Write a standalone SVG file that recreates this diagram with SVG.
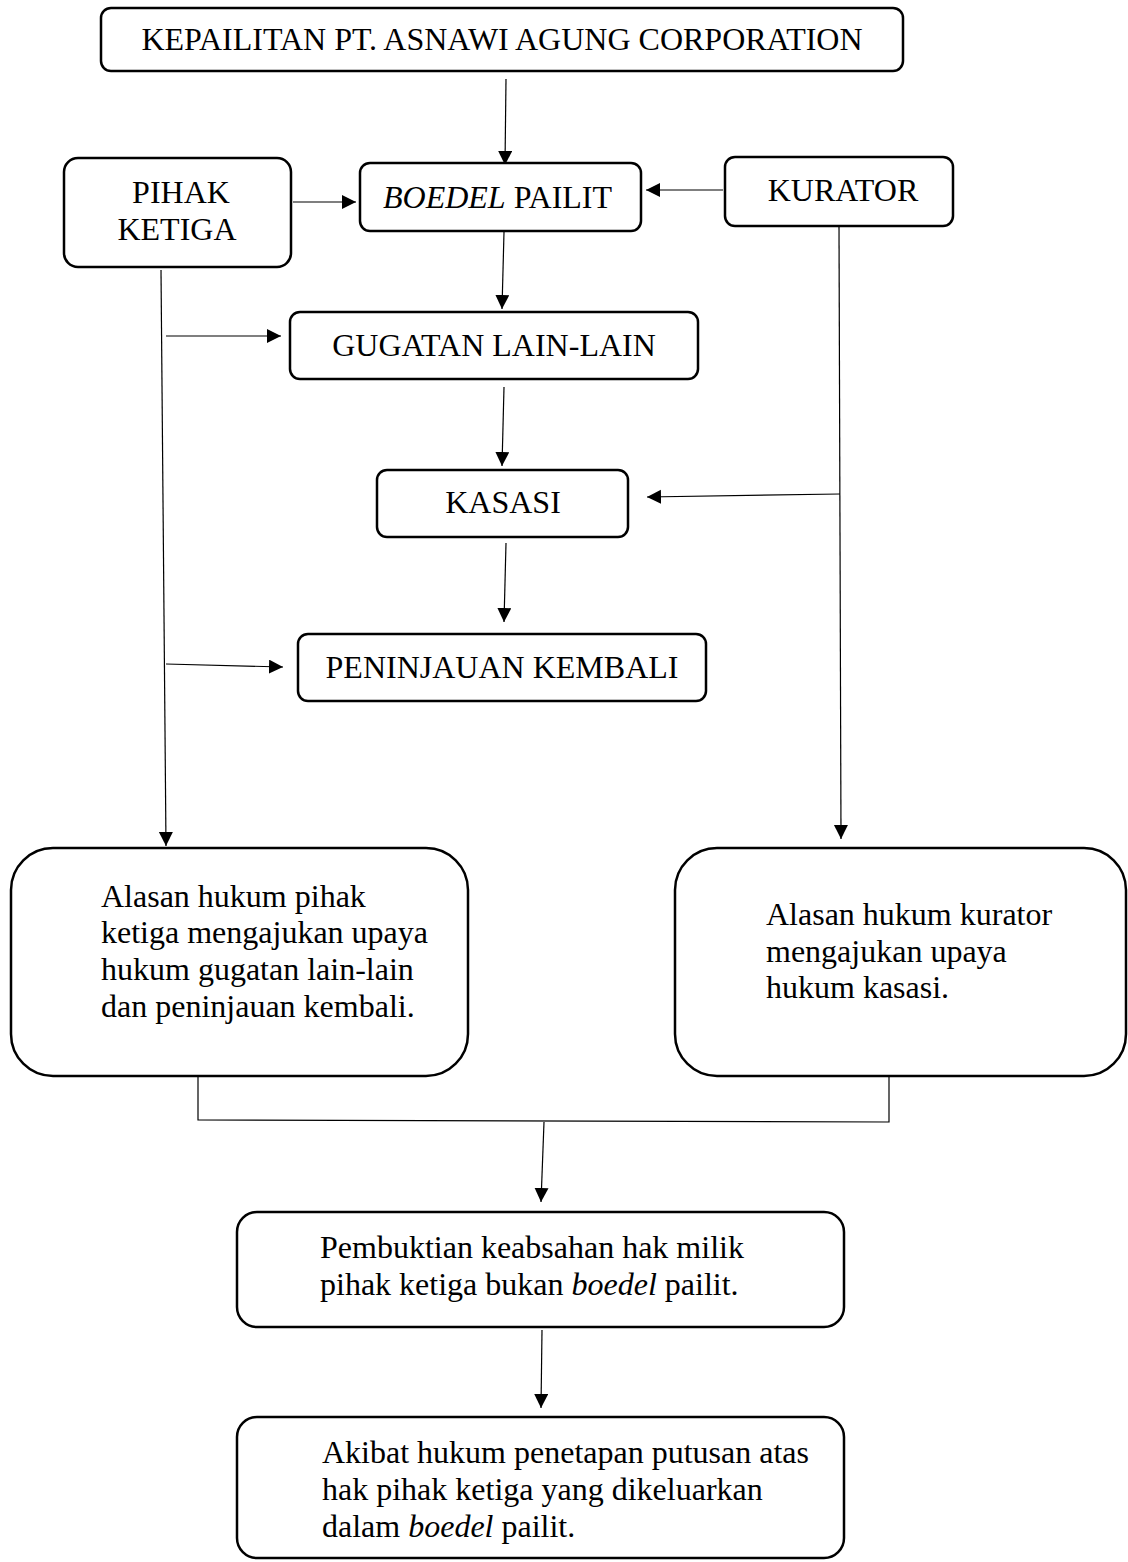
<svg xmlns="http://www.w3.org/2000/svg" width="1128" height="1562" viewBox="0 0 1128 1562">
<style>
.box{fill:#fff;stroke:#000;stroke-width:2.5}
.t{font-family:"Liberation Serif","Times New Roman",serif;font-size:32px;fill:#000}
.c{text-anchor:middle}
.con{stroke:#000;stroke-width:1.2;fill:none}
</style>
<defs>
<marker id="ah" markerUnits="userSpaceOnUse" markerWidth="16" markerHeight="16" refX="14" refY="7" orient="auto">
<path d="M0,0 L14,7 L0,14 Z" fill="#000"/>
</marker>
</defs>
<rect width="1128" height="1562" fill="#fff"/>
<g id="connectors">
<line class="con" x1="506" y1="79" x2="505" y2="165" marker-end="url(#ah)"/>
<line class="con" x1="293" y1="202" x2="356" y2="202" marker-end="url(#ah)"/>
<line class="con" x1="723" y1="190" x2="646" y2="190" marker-end="url(#ah)"/>
<line class="con" x1="504" y1="232" x2="502" y2="309" marker-end="url(#ah)"/>
<line class="con" x1="161" y1="270" x2="166" y2="846" marker-end="url(#ah)"/>
<line class="con" x1="166" y1="336" x2="281" y2="336" marker-end="url(#ah)"/>
<line class="con" x1="166" y1="664" x2="283" y2="667" marker-end="url(#ah)"/>
<line class="con" x1="839" y1="227" x2="841" y2="839" marker-end="url(#ah)"/>
<line class="con" x1="840" y1="494" x2="647" y2="497" marker-end="url(#ah)"/>
<line class="con" x1="504" y1="387" x2="502" y2="466" marker-end="url(#ah)"/>
<line class="con" x1="506" y1="543" x2="504" y2="622" marker-end="url(#ah)"/>
<polyline class="con" points="198,1077 198,1120 889,1122 889,1077"/>
<line class="con" x1="544" y1="1122" x2="541" y2="1202" marker-end="url(#ah)"/>
<line class="con" x1="542" y1="1330" x2="541" y2="1408" marker-end="url(#ah)"/>
</g>
<g id="n-kepailitan">
<rect class="box" x="101" y="8" width="802" height="63" rx="10"/>
<text class="t c" x="502" y="50">KEPAILITAN PT. ASNAWI AGUNG CORPORATION</text>
</g>
<g id="n-pihak">
<rect class="box" x="64" y="158" width="227" height="109" rx="14"/>
<text class="t c" x="181" y="203">PIHAK</text>
<text class="t c" x="177" y="240">KETIGA</text>
</g>
<g id="n-boedel">
<rect class="box" x="360" y="163" width="281" height="68" rx="10"/>
<text class="t" x="383" y="208"><tspan font-style="italic">BOEDEL</tspan> PAILIT</text>
</g>
<g id="n-kurator">
<rect class="box" x="725" y="157" width="228" height="69" rx="10"/>
<text class="t c" x="843" y="201">KURATOR</text>
</g>
<g id="n-gugatan">
<rect class="box" x="290" y="312" width="408" height="67" rx="10"/>
<text class="t c" x="494" y="356">GUGATAN LAIN-LAIN</text>
</g>
<g id="n-kasasi">
<rect class="box" x="377" y="470" width="251" height="67" rx="10"/>
<text class="t c" x="503" y="513">KASASI</text>
</g>
<g id="n-peninjauan">
<rect class="box" x="298" y="634" width="408" height="67" rx="10"/>
<text class="t c" x="502" y="678">PENINJAUAN KEMBALI</text>
</g>
<g id="n-alasan-pihak">
<rect class="box" x="11" y="848" width="457" height="228" rx="42"/>
<text class="t" x="101" y="907">Alasan hukum pihak</text>
<text class="t" x="101" y="943">ketiga mengajukan upaya</text>
<text class="t" x="101" y="980">hukum gugatan lain-lain</text>
<text class="t" x="101" y="1017">dan peninjauan kembali.</text>
</g>
<g id="n-alasan-kurator">
<rect class="box" x="675" y="848" width="451" height="228" rx="42"/>
<text class="t" x="766" y="925">Alasan hukum kurator</text>
<text class="t" x="766" y="962">mengajukan upaya</text>
<text class="t" x="766" y="998">hukum kasasi.</text>
</g>
<g id="n-pembuktian">
<rect class="box" x="237" y="1212" width="607" height="115" rx="20"/>
<text class="t" x="320" y="1258">Pembuktian keabsahan hak milik</text>
<text class="t" x="320" y="1295">pihak ketiga bukan <tspan font-style="italic">boedel</tspan> pailit.</text>
</g>
<g id="n-akibat">
<rect class="box" x="237" y="1417" width="607" height="141" rx="20"/>
<text class="t" x="322" y="1463">Akibat hukum penetapan putusan atas</text>
<text class="t" x="322" y="1500">hak pihak ketiga yang dikeluarkan</text>
<text class="t" x="322" y="1537">dalam <tspan font-style="italic">boedel</tspan> pailit.</text>
</g>
</svg>
